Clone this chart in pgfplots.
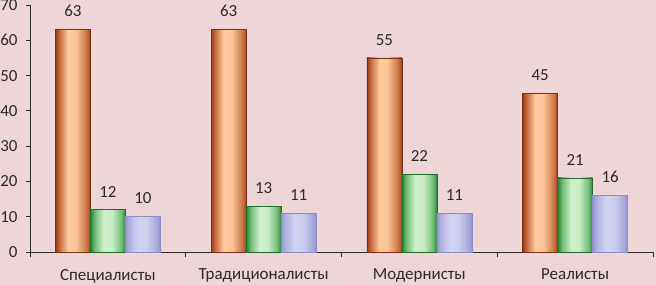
\documentclass[border=0pt]{standalone}
\usepackage{pgfplots}
\pgfplotsset{compat=1.18}
\usepackage{fontspec}
\setmainfont{Carlito}
\definecolor{bgpink}{HTML}{EED5D7}
\definecolor{oraE}{HTML}{7E2E12}
\definecolor{grnE}{HTML}{1F6E2A}
\definecolor{lavE}{HTML}{8C8CC6}
\definecolor{txt}{HTML}{2B2B2B}
\pgfdeclarehorizontalshading{orabar}{100bp}{color(0bp)=(rgb,255:red,150;green,58;blue,26); color(25bp)=(rgb,255:red,150;green,58;blue,26); color(31bp)=(rgb,255:red,200;green,110;blue,65); color(43bp)=(rgb,255:red,255;green,203;blue,158); color(55bp)=(rgb,255:red,250;green,195;blue,148); color(69bp)=(rgb,255:red,205;green,120;blue,72); color(75bp)=(rgb,255:red,160;green,68;blue,32); color(100bp)=(rgb,255:red,160;green,68;blue,32)}
\pgfdeclarehorizontalshading{grnbar}{100bp}{color(0bp)=(rgb,255:red,40;green,130;blue,52); color(25bp)=(rgb,255:red,40;green,130;blue,52); color(31bp)=(rgb,255:red,110;green,185;blue,115); color(44bp)=(rgb,255:red,208;green,240;blue,205); color(56bp)=(rgb,255:red,200;green,236;blue,198); color(69bp)=(rgb,255:red,115;green,190;blue,120); color(75bp)=(rgb,255:red,45;green,135;blue,58); color(100bp)=(rgb,255:red,45;green,135;blue,58)}
\pgfdeclarehorizontalshading{lavbar}{100bp}{color(0bp)=(rgb,255:red,150;green,150;blue,210); color(25bp)=(rgb,255:red,150;green,150;blue,210); color(31bp)=(rgb,255:red,178;green,178;blue,226); color(44bp)=(rgb,255:red,212;green,212;blue,242); color(56bp)=(rgb,255:red,205;green,205;blue,238); color(69bp)=(rgb,255:red,170;green,170;blue,220); color(75bp)=(rgb,255:red,148;green,148;blue,206); color(100bp)=(rgb,255:red,148;green,148;blue,206)}
\pgfplotsset{
  orab/.style={ybar, bar width=0.2247, bar shift=-0.2247, draw=oraE, line width=0.6bp, shading=orabar,
    every node near coord/.append style={xshift=-35bp}},
  grnb/.style={ybar, bar width=0.2247, bar shift=0, draw=grnE, line width=0.6bp, shading=grnbar},
  lavb/.style={ybar, bar width=0.2247, bar shift=0.2247, draw=lavE, line width=0.6bp, shading=lavbar,
    every node near coord/.append style={xshift=35bp}},
}
\begin{document}
\begin{tikzpicture}
\path[use as bounding box] (-30bp,-33bp) rectangle (626bp,252bp);
\fill[bgpink] (-30bp,-33bp) rectangle (626bp,252bp);
\clip (-30bp,-33bp) rectangle (626bp,252bp);
\begin{axis}[
  at={(0,0)}, anchor=south west,
  scale only axis, width=623bp, height=247bp,
  font=\fontsize{17}{19}\selectfont,
  /pgf/number format/assume math mode=true,
  ymin=0, ymax=70, ytick={0,10,...,70},
  xmin=-0.5, xmax=3.5,
  xtick={0,1,2,3},
  xticklabels={Специалисты,Традиционалисты,Модернисты,Реалисты},
  minor xtick={-0.5,0.5,1.5,2.5,3.5},
  axis lines*=left,
  axis line style={draw=txt, line width=0.9bp},
  tick align=outside,
  major tick length=4bp, minor tick length=5bp,
  major x tick style={draw=none},
  every tick/.style={draw=txt, line width=0.9bp},
  minor tick style={draw=txt, line width=0.9bp},
  tick label style={text=txt},
  yticklabel style={xshift=-5bp},
  xticklabel style={yshift=-9.5bp},
  nodes near coords,
  every node near coord/.append style={text=txt, yshift=9bp, font=\fontsize{17}{19}\selectfont},
  clip=false,
]
\addplot[orab] coordinates {(0,63)};
\addplot[orab] coordinates {(1,63)};
\addplot[orab] coordinates {(2,55)};
\addplot[orab] coordinates {(3,45)};
\addplot[grnb] coordinates {(0,12)};
\addplot[grnb] coordinates {(1,13)};
\addplot[grnb] coordinates {(2,22)};
\addplot[grnb] coordinates {(3,21)};
\addplot[lavb] coordinates {(0,10)};
\addplot[lavb] coordinates {(1,11)};
\addplot[lavb] coordinates {(2,11)};
\addplot[lavb] coordinates {(3,16)};
\end{axis}
\end{tikzpicture}
\end{document}
